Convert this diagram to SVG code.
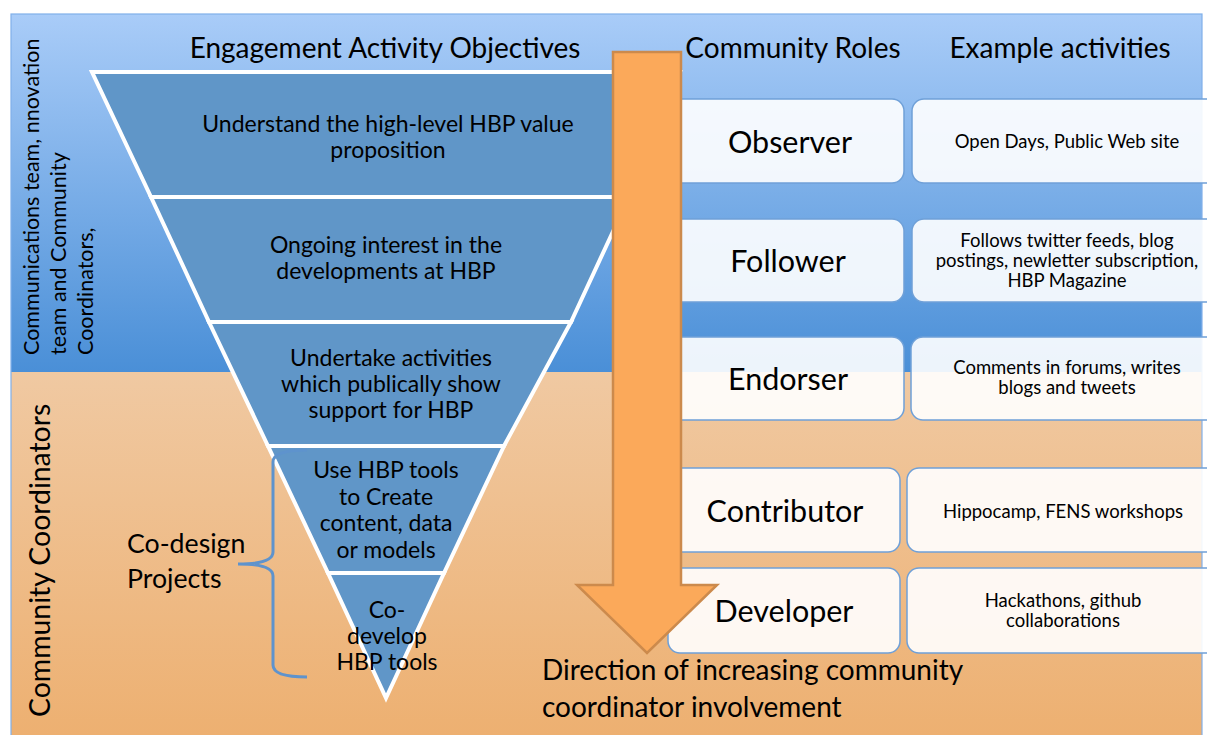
<svg xmlns="http://www.w3.org/2000/svg" width="1207" height="735" viewBox="0 0 1207 735">
<defs>
<linearGradient id="gBlue" x1="0" y1="14" x2="0" y2="372" gradientUnits="userSpaceOnUse">
<stop offset="0" stop-color="#a9ccf8"/>
<stop offset="1" stop-color="#4a8fd7"/>
</linearGradient>
<linearGradient id="gOrange" x1="0" y1="372" x2="0" y2="735" gradientUnits="userSpaceOnUse">
<stop offset="0" stop-color="#f0c9a2"/>
<stop offset="1" stop-color="#edb071"/>
</linearGradient>
<style>
.t{font-family:Lato,"Open Sans","Liberation Sans",sans-serif;fill:#000}
.band{fill:#6096c8;stroke:#fff;stroke-width:4;stroke-linejoin:miter}
.bt{font-size:23px;text-anchor:middle}
.box{fill:#fff;fill-opacity:0.9;stroke:#6fa0d8;stroke-width:1.5}
.role{font-size:30.5px;text-anchor:middle}
.act{font-size:18.5px;text-anchor:middle}
.hdr{font-size:28px;text-anchor:middle}
.big{font-size:28px}
</style>
</defs>

<g id="background">
<rect x="11" y="14" width="1191" height="358" fill="url(#gBlue)"/>
<rect x="11" y="372" width="1191" height="363" fill="url(#gOrange)"/>
<rect x="11" y="14" width="1191" height="730" fill="none" stroke="#80b0ea" stroke-width="1.2"/>
</g>

<g id="side-labels">
<text class="t" font-size="21.5" transform="translate(39,355) rotate(-90)">Communications team, nnovation</text>
<text class="t" font-size="21.5" transform="translate(66,355) rotate(-90)">team and Community</text>
<text class="t" font-size="21.5" transform="translate(93,355) rotate(-90)">Coordinators,</text>
<text class="t" font-size="28.4" transform="translate(50,717) rotate(-90)">Community Coordinators</text>
</g>

<g id="headers">
<text class="t hdr" x="385" y="58">Engagement Activity Objectives</text>
<text class="t hdr" x="793" y="58">Community Roles</text>
<text class="t hdr" x="1060" y="58">Example activities</text>
</g>

<g id="funnel">
<g id="band1">
<polygon class="band" points="92,72 680,72 629,197 151,197"/>
<text class="t bt" x="388" y="132">Understand the high-level HBP value</text>
<text class="t bt" x="388" y="158">proposition</text>
</g>
<g id="band2">
<polygon class="band" points="151,197 629,197 571,322 209,322"/>
<text class="t bt" x="386" y="253">Ongoing interest in the</text>
<text class="t bt" x="386" y="279">developments at HBP</text>
</g>
<g id="band3">
<polygon class="band" points="209,322 571,322 504,446 268,446"/>
<text class="t bt" x="391" y="366">Undertake activities</text>
<text class="t bt" x="391" y="392">which publically show</text>
<text class="t bt" x="391" y="418">support for HBP</text>
</g>
<g id="band4">
<polygon class="band" points="268,446 504,446 444,573 328,573"/>
<text class="t bt" x="386" y="478">Use HBP tools</text>
<text class="t bt" x="386" y="505">to Create</text>
<text class="t bt" x="386" y="531">content, data</text>
<text class="t bt" x="386" y="558">or models</text>
</g>
<g id="band5">
<polygon class="band" points="328,573 444,573 386,698"/>
<text class="t bt" x="387" y="618">Co-</text>
<text class="t bt" x="387" y="644">develop</text>
<text class="t bt" x="387" y="670">HBP tools</text>
</g>
</g>

<g id="codesign">
<path d="M307,450 Q273,450 273,462 L273,552 Q273,564 238,564 Q273,564 273,576 L273,665 Q273,677 307,677" fill="none" stroke="#5e93cd" stroke-width="3"/>
<text class="t" font-size="26.7" x="127" y="553">Co-design</text>
<text class="t" font-size="26.7" x="127" y="588">Projects</text>
</g>

<g id="roles">
<g id="observer">
<rect class="box" x="668" y="99" width="236" height="84" rx="12"/>
<text class="t role" x="790" y="153">Observer</text>
</g>
<g id="follower">
<rect class="box" x="668" y="219" width="236" height="83" rx="12"/>
<text class="t role" x="788" y="272">Follower</text>
</g>
<g id="endorser">
<rect class="box" x="668" y="337" width="236" height="83" rx="12"/>
<text class="t role" x="788" y="390">Endorser</text>
</g>
<g id="contributor">
<rect class="box" x="668" y="468" width="232" height="84" rx="12"/>
<text class="t role" x="785" y="522">Contributor</text>
</g>
<g id="developer">
<rect class="box" x="668" y="568" width="232" height="85" rx="12"/>
<text class="t role" x="784" y="622">Developer</text>
</g>
</g>

<g id="activities">
<g id="act-observer">
<rect class="box" x="912" y="99" width="310" height="84" rx="12"/>
<text class="t act" x="1067" y="148">Open Days, Public Web site</text>
</g>
<g id="act-follower">
<rect class="box" x="912" y="219" width="310" height="83" rx="12"/>
<text class="t act" x="1067" y="247">Follows twitter feeds, blog</text>
<text class="t act" x="1067" y="267">postings, newletter subscription,</text>
<text class="t act" x="1067" y="287">HBP Magazine</text>
</g>
<g id="act-endorser">
<rect class="box" x="911" y="337" width="310" height="83" rx="12"/>
<text class="t act" x="1067" y="374">Comments in forums, writes</text>
<text class="t act" x="1067" y="394">blogs and tweets</text>
</g>
<g id="act-contributor">
<rect class="box" x="907" y="468" width="315" height="84" rx="12"/>
<text class="t act" x="1063" y="518">Hippocamp, FENS workshops</text>
</g>
<g id="act-developer">
<rect class="box" x="907" y="568" width="315" height="85" rx="12"/>
<text class="t act" x="1063" y="607">Hackathons, github</text>
<text class="t act" x="1063" y="627">collaborations</text>
</g>
</g>

<g id="connectors">
<g id="direction-arrow">
<polygon points="613,52 681,52 681,585 717,585 647,653 577,585 613,585" fill="#fba95a" stroke="#cc8a4c" stroke-width="2.5" stroke-linejoin="miter"/>
</g>
</g>

<g id="direction-label">
<text class="t big" x="542" y="680">Direction of increasing community</text>
<text class="t big" x="542" y="717">coordinator involvement</text>
</g>
</svg>
